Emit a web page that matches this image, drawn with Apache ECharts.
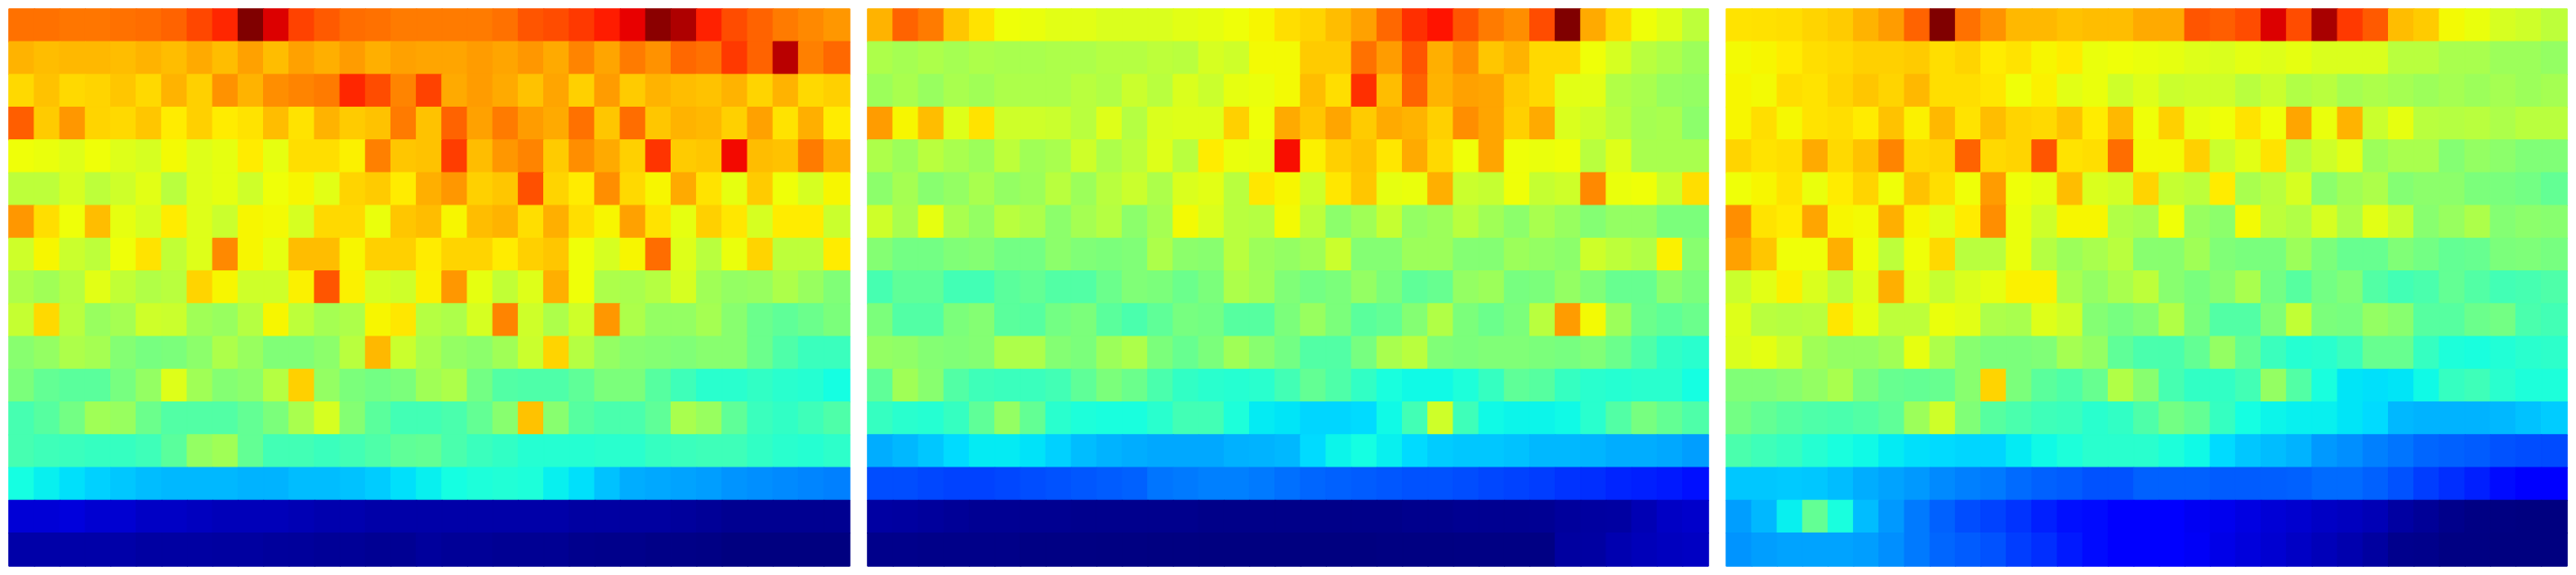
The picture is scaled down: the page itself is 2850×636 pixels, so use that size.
<!DOCTYPE html>
<html>
<head>
<meta charset="utf-8">
<style>html,body{margin:0;padding:0;background:#fff}#c{width:2850px;height:636px}</style>
<script src="https://cdn.jsdelivr.net/npm/echarts@6/dist/echarts.min.js"></script>
</head>
<body>
<div id="c"></div>
<script>
const panelA = [
[79,79,78.5,78.5,79,79.5,80.5,83.5,87,100,92,84,81.5,79.5,79,78,78,78,78,79,82,83,85,88,91,99,96,87.5,83,80.5,78,76.5,75],
[72,71,71.5,71.5,71,72,71,73,71,74,71,74,72.5,74.5,72.5,74,73.5,73.5,74.5,73.5,75,73,77,73.5,78,75.5,80,79,85,80.5,95,77.5,80],
[68,70.5,68,68.5,70,68,72,69,75.5,72,76,77,78,87,83,77,84,73,74.5,73,70.5,73.5,69,74.5,69.5,72,71,70.5,72,68.5,72,68,69],
[81,69.5,75,68.5,68,70,66,69,66,67,71,67,72,69.5,70.5,78,70.5,80.5,74,78,74.5,73,79,70,79.5,70,72,71.5,69,74,67,72.5,66],
[64,63.5,62,64,62,61,64.5,62,63,66,63,67.5,67.5,65.5,77.5,70,70.5,84.5,71,75,77,69.5,76,73,69,85.5,69.5,70,90,71,70.5,78,72.5],
[58,58,61,58,60,62.5,57.5,62,63,60,64,65,62.5,68.5,69.5,66,72.5,75,69,70,82.5,68.5,66,76,68,65,73,67,63,69.5,64,61,65],
[75,67.5,64,71,63,61,66,62,59.5,65,64.5,61,68,68,63.5,70,71,65,71,72,67.5,72.5,67.5,65,74,67,63,69,66.5,61,66,66,59.5],
[60,65,59.5,58,64,67,58.5,62,76.5,65,63,71,71,65,69,69,66,68.5,68.5,66,69,70,64,61,65,79.5,62,57.5,63.5,68.5,58,58,66],
[56,54.5,57,62.5,58.5,56.5,57.5,68.5,65,60,60,65.5,82,65.5,61,60,65.5,75,63,58.5,62,72.5,64,56,55.5,57,61,54.5,53,53.5,56,53.5,50.5],
[59,68,57.5,53.5,55,60,59.5,54.5,53.5,57,65,58,55,56,65,66.5,57,56,61,77,60,56,60,75,56,53,53,55,51.5,48,46.5,48,50],
[51.5,53,56,55,51,49.5,50,52,56,53.5,50.5,50.5,52,57.5,71.5,59.5,55.5,53,52,54.5,59.5,68.5,57,53,51.5,51,50.5,51.5,51.5,48,44.5,42,42],
[50,47,46,46,49.5,53,62,54.5,51,52,57,69,53,50,49,50,54.5,56,49,45,44.5,44.5,46.5,50,50,45.5,42.5,40,40,41,40,39.5,37.5],
[43.5,45.5,49,54.5,53.5,48,45,45,45,47,50,55.5,61,51,46,43,43,44,47,51.5,70.5,51.5,45.5,44,44,46.5,55.5,53.5,46.5,42,41,42.5,44.5],
[43.5,42.5,42,41.5,41.5,42.5,46,53,54.5,47,43,43,42,43,44.5,46.5,47,44,42,41,39.5,39.5,39.5,40,40,41.5,42,42.5,42.5,41,40,39.5,40.5],
[37.5,36,34.5,33,32,31,30.5,30.5,30.5,30,30,31,31,31.5,32.5,34.5,36,37.5,38.5,39,38.5,36,34.5,31.5,29.5,29,28.5,28,27,26.5,26,25.5,25],
[7.5,7.5,8,7,7,6,6,5.5,5,5,5,4.5,4,4,3.5,3.5,3.5,3.5,3.5,3.5,3.5,3.5,3,3,2.8,2.8,2.5,2,1.5,1.5,1.5,1.5,1.5],
[3.5,3.5,3.5,3.5,3.5,3,3,3,2.8,2.8,2.5,2.4,2,2,1.7,1.7,2.5,2,2,1.7,1.7,1.7,1.2,1,1,0.7,0.7,0.5,0,0,0,0,0]
];
const panelB = [
[72,80.5,78,70,67,64,63.5,62.5,62.5,61.5,61.5,61.5,62.5,63,64,65,67.5,68.5,71,74,80,86,89,82,78,76,83,100,73,68,64,62,58],
[56,55,56,55,56,55.5,55.5,56,56,57,57,58,57.5,61,60,64.5,64.5,69.5,69.5,79,74.5,82,72.5,76,70,72,68,68,64,61,57.5,56,54],
[54,55.5,53.5,55.5,54.5,56,56,56,57.5,56.5,59.5,57.5,61.5,59.5,63,63.5,64.5,71,67.5,86,71,80.5,72,74,73.5,69.5,68,62.5,62.5,56.5,55.5,53.5,53],
[74.5,65,71,62,67,60,60,59.5,57.5,62,57,61.5,62,62,69,64,73,70,73.5,69.5,73,72,69,76,73.5,69,73,61.5,60,57.5,55,55.5,52],
[56,54,57.5,55.5,54,58,54.5,55.5,60,56,58,62,57.5,66,63.5,63,89.5,65.5,69,70.5,66.5,73,68,64,73.5,64,63.5,64,57.5,62,55.5,55.5,55.5],
[52,55,51.5,53,55.5,53,54,57.5,54,57.5,59.5,56,61.5,62.5,57.5,66.5,65,60,66.5,70,63,63.5,72.5,59.5,59,64,59,60,76.5,63.5,64,59.5,67.5],
[60,55.5,63,55.5,53,57.5,56,52,55,57,52,55,64.5,61.5,57.5,57,64.5,58,52,54.5,59,53,54,57.5,54.5,52,55.5,53.5,51,53,53,50,50],
[51,49,49,50.5,51,49,49,52,50.5,50,50.5,56,52,51.5,57.5,54,53,54.5,59.5,51,51,54,54,51,51,54,53,52,60,58,56.5,65.5,51.5],
[43.5,46.5,46.5,43,43,46,47,45,45,48,50.5,50,48,50,56,54.5,50.5,49,50,53,50,46.5,47.5,53,54,49.5,50,53,50.5,47.5,47.5,52,50],
[50,45,45,50,51,46,45.5,49,50,46,44,46.5,49.5,49,45.5,45.5,50,53.5,50,46,47,51,56.5,50,48,50,57.5,74.5,64.5,54,48,46.5,48],
[53,52.5,51,50.5,51,56,56,51,50,54,56,50,47.5,50,54.5,51.5,49,45,45,49.5,55.5,57.5,50.5,50,50.5,50.5,50,49.5,50.5,48,44.5,41,40],
[46.5,54.5,51.5,45,42.5,42,42,43,46.5,50,48,44,41,40,39.5,40,43,47,44.5,41,38,37,37,38.5,41.5,46.5,45.5,41.5,40,39.5,40,40,37.5],
[41.5,40,39.5,41.5,46.5,53,47,40,38.5,38,38,40,43,43,38.5,35.5,35,33.5,33.5,34,37,43,60,42.5,37,36.5,36.5,37,40,45,49.5,47,44.5],
[29.5,30.5,32,34,35.5,35.5,34.8,33,31,30,29.5,29,29,29,29.8,30,30.5,34,36.5,37.5,36,34,32.5,32,32,31.5,30.5,30.5,30.2,29.5,29.5,29,28],
[20,20,19.5,19,19,19.5,20,20.5,21,21.5,22,24,24.5,25,25,24.5,23.5,22.5,22,21.5,21,20.5,20.5,20,19.5,19,18.5,17.5,17,16,15.5,15,14],
[3,2.8,2.5,2,1.7,1.7,1.5,1.5,1.2,1.2,1.2,1.2,1.2,0.8,0.8,0.8,0.8,0.8,0.8,0.8,0.8,1.2,1.2,1.5,1.5,1.5,1.7,2.5,2.8,3,4.5,6,6.5],
[1,1,0.8,0.8,0.8,0.8,0.4,0.4,0.3,0.2,0.2,0.1,0.1,0,0,0,0,0,0,0,0.2,0.2,0.2,0.3,0.4,0.4,0.4,2.8,3,4.2,5,5.5,5.8]
];
const panelC = [
[67,67.2,67.5,68.5,69.5,72,74.5,80.5,100,79,75.5,71.5,71.5,70.5,71,71,73,73,82,81,83,92,83,96.5,85,81.5,71,69.5,64.5,63.5,61,60,58],
[64.5,65,66,67.5,68,69,69,69.5,67.5,68.5,66,67,65,66,63.5,64,63.5,63,62,61.5,62.8,62,63,61.5,61.5,61.5,57.5,57.5,55.5,55.5,54,54,53],
[65,64.5,67.5,67,68.5,70,68.5,71.5,67.5,67.5,66.5,64,65.5,62.5,63.5,60,62,59.5,60,60,57.5,59.5,56.5,57.5,55,56,55,54,55,54,55,54,55],
[65,67.5,64.8,67,67.5,66,70.5,65.5,71.5,67,71,68.5,68,70.5,66,71.5,64,69,63,64,67,64,73.5,63.5,72,59.5,63,57.5,57,57.5,56,57.5,57.5],
[68.5,67,67.5,73,68,70.5,77,68,68.5,80.5,68,68.5,82,67,67.5,79.5,64.5,64.5,69,59.5,62.5,67,57.5,60,62.5,54,55.5,55.5,51,53,52,50.5,50.5],
[64,65,67,63.5,66,68.5,64,70.5,67.5,64,74.5,64,63,71,61.5,60.5,68.5,59,58,66,55.5,57.5,61,52,54.5,56,51,52,52,50,49.8,49,47],
[76,67,66,73.5,65,64.5,72.5,65,62.5,66,76,63.5,60,65,65,56.5,55.5,64,53.5,52,64.5,58,56.5,61,56,62.5,59,51.5,53.5,56,51,52,51.5],
[74,70,64,64,72.5,64,58,64,68,57.5,57.5,63.5,57,54,55.5,57.5,51.5,51.5,54.5,50.5,49.8,49.8,54,50,47.5,47.5,50.5,49,47,47.5,50,50.3,49.5],
[59.5,62.5,65.5,61.5,58,62,72.5,62.5,59,61.5,63,65.5,65.5,55.5,53,55.5,58,51.5,49.8,51.5,55.5,49,45.5,49,50.5,45,43,44,47,45,43,43.5,44.5],
[62,57.5,57,57.5,66.5,63,58,58,63.5,62.5,56,55.5,62,60,51,49.5,51,56.5,50,45,45,50.5,58.5,50,49.5,53,51.5,45.5,45.5,48,49,44,43],
[61.5,62.8,60,54.5,53,53,54.5,63,56,51.5,50,50,50.5,55,53,46.5,44,44,47,53,47,42,39.5,40,42,47.5,47.5,41.5,38.5,38,39,40,40.5],
[50.5,50.5,51.5,53,55.5,50,47.5,47,47.5,51.5,68.5,50,46,44.5,47.5,56.5,51.5,43.5,41,41,43,53,45,38,35,34.5,35,37,41.5,42.5,40,38.5,38.5],
[49,47,45.5,44.5,44,45,46.5,54,60,50.5,45.5,44,42.5,42,40,41,44.5,49,47,41.5,37.5,36.5,36,36,35,34,30.5,30,30,30,30.5,31.5,32.5],
[44,42.5,41.5,39.5,38,37,35.5,34.5,34,33.5,33.5,35.5,37,38.5,40,40,40,38.5,37,34,32,31,30,27.5,26.5,25,24,22.5,22,21.5,20.5,20,19.8],
[32,32,32.3,32,31,29.5,28.5,27.5,26,25,24.5,23,22,21.5,20.5,20.5,22,22,22,21.5,21.5,21.7,22,23,23,22,20.5,18.5,17,15.5,13.5,12,12],
[28,30.5,36,47,38,31,27.5,24.5,22,20,19,17.5,15.5,14,13.5,12,11.5,11.5,10,9.5,8.5,7.5,6.8,6,5.5,4.7,3,2,1,0.4,0.2,0,0],
[27,28,28.5,28.5,28.5,28,26.5,24.5,22.5,21.5,20.5,18.5,17,15,13.5,12,11.5,11.5,10.3,9,8,7,6,5,4,2.8,1.2,1,0.3,0.3,0,0,0]
];
const panels = [panelA, panelB, panelC];
const panelLeft = [10, 960, 1910];

// matplotlib "jet" segment table
function seg(t, pts) {
  for (let i = 1; i < pts.length; i++) {
    if (t <= pts[i][0]) {
      const a = pts[i - 1], b = pts[i];
      return a[1] + (b[1] - a[1]) * (t - a[0]) / (b[0] - a[0]);
    }
  }
  return pts[pts.length - 1][1];
}
const redSeg = [[0,0],[.35,0],[.66,1],[.89,1],[1,.5]];
const greenSeg = [[0,0],[.125,0],[.375,1],[.64,1],[.91,0],[1,0]];
const blueSeg = [[0,.5],[.11,1],[.34,1],[.65,0],[1,0]];
function jetColor(t) {
  return 'rgb(' + [redSeg, greenSeg, blueSeg].map(s => Math.round(seg(t, s) * 255)).join(',') + ')';
}
const jet = [];
for (let i = 0; i <= 200; i++) jet.push(jetColor(i / 200));

const grid = [], xAxis = [], yAxis = [], series = [];
panels.forEach((rows, p) => {
  const rowLabels = rows.map((_, r) => r);
  const colLabels = rows[0].map((_, c) => c);
  const cells = [];
  rows.forEach((row, r) => row.forEach((v, c) => cells.push({
    value: [c, r, v],
    itemStyle: { borderWidth: 1, borderColor: jetColor(v / 100) }
  })));
  grid.push({ left: panelLeft[p], top: 10, width: 930, height: 616 });
  xAxis.push({ type: 'category', gridIndex: p, data: colLabels, show: false });
  yAxis.push({ type: 'category', gridIndex: p, data: rowLabels, inverse: true, show: false });
  series.push({ type: 'heatmap', xAxisIndex: p, yAxisIndex: p, data: cells, progressive: 0, animation: false });
});

const chart = echarts.init(document.getElementById('c'), null, { renderer: 'canvas' });
chart.setOption({
  backgroundColor: '#ffffff',
  animation: false,
  grid, xAxis, yAxis, series,
  visualMap: { show: false, min: 0, max: 100, dimension: 2, seriesIndex: [0, 1, 2], inRange: { color: jet } }
});
</script>
</body>
</html>
